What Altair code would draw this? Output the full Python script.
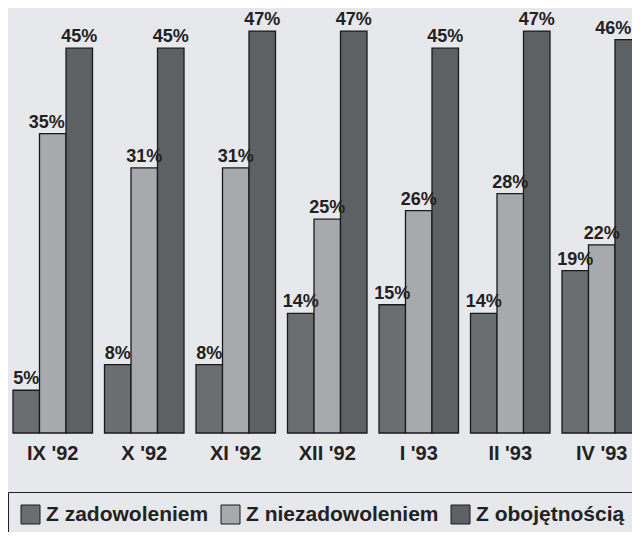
import altair as alt
import pandas as pd

months = ["IX '92", "X '92", "XI '92", "XII '92", "I '93", "II '93", "IV '93"]
series = ["Z zadowoleniem", "Z niezadowoleniem", "Z obojętnością"]
zadowolenie = [5, 8, 8, 14, 15, 14, 19]
niezadowolenie = [35, 31, 31, 25, 26, 28, 22]
obojetnosc = [45, 45, 47, 47, 45, 47, 46]

rows = []
for i, m in enumerate(months):
    for s, vals in zip(series, [zadowolenie, niezadowolenie, obojetnosc]):
        rows.append({"month": m, "series": s, "value": vals[i]})
df = pd.DataFrame(rows)

FONT = "Liberation Sans"
colors = ["#6b6e71", "#a7a9ac", "#5e6164"]

x = alt.X("month:N", sort=months, title=None,
          scale=alt.Scale(range=[5, 633.5], paddingInner=0.131, paddingOuter=0),
          axis=alt.Axis(domain=False, ticks=False, labelAngle=0, labelFont=FONT,
                        labelFontSize=20, labelFontWeight="bold", labelColor="#222222",
                        labelPadding=10))
xo = alt.XOffset("series:N", sort=series,
                 scale=alt.Scale(paddingInner=0, paddingOuter=0))
y = alt.Y("value:Q", scale=alt.Scale(domain=[0, 49.7], nice=False, zero=True), axis=None)

bars = alt.Chart(df).mark_bar(stroke="#1a1a1a", strokeWidth=1.3).encode(
    x=x, xOffset=xo, y=y,
    color=alt.Color("series:N", sort=series,
                    scale=alt.Scale(domain=series, range=colors),
                    legend=alt.Legend(title=None, orient="none", legendX=0, legendY=484,
                                      direction="horizontal", columns=3,
                                      symbolType="square", symbolSize=361,
                                      symbolStrokeColor="#1a1a1a", symbolStrokeWidth=1,
                                      labelFont=FONT, labelFontSize=21, labelFontWeight="bold",
                                      labelColor="#222222", labelOffset=5, columnPadding=10,
                                      padding=12, strokeColor="#222222",
                                      labelLimit=400)),
)

first_crowded = "datum.month == \"IX '92\" && datum.series == 'Z niezadowoleniem'"
edge_label = "datum.month == \"IV '93\" && datum.series == 'Z obojętnością'"

base_labels = alt.Chart(df).transform_calculate(lab="datum.value + '%'")


def label_layer(flt, dx):
    return base_labels.transform_filter(flt).mark_text(
        font=FONT, fontSize=18, fontWeight="bold", color="#222222",
        baseline="alphabetic", dy=-6, dx=dx).encode(
        x=alt.X("month:N", sort=months), xOffset=xo, y=y, text="lab:N"
    )


labels = label_layer("!(" + first_crowded + ") && !(" + edge_label + ")", 0)
labels_first = label_layer(first_crowded, -6)
labels_edge = label_layer(edge_label, -15)

chart = alt.layer(bars, labels, labels_first, labels_edge).properties(
    width=624, height=425,
    autosize=alt.AutoSizeParams(type="none"),
    padding={"left": 0, "top": 0, "right": 0, "bottom": 99},
    background="#e7e8ec",
).configure_view(stroke=None)

chart.save("out.html", embed_options={"renderer": "svg", "actions": False})
